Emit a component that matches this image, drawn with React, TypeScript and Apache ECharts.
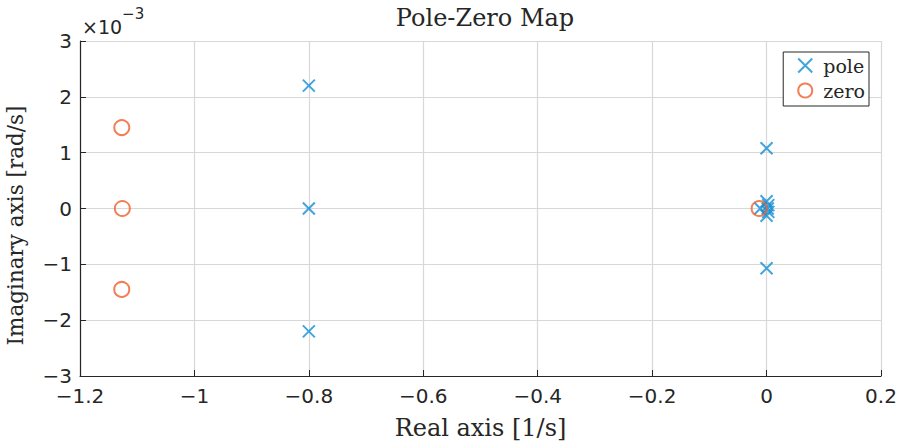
import React, { useEffect, useRef } from "react";
import * as echarts from "echarts";

// Poles: [real (1/s), imaginary (rad/s)]
const poleReal = [-0.8, -0.8, -0.8, 0, 0, 0, 0, 0.003, 0.003, 0.002, -0.011];
const poleImag = [2.2e-3, 0, -2.2e-3, 1.08e-3, -1.07e-3, 0.13e-3, -0.13e-3, 0.06e-3, -0.06e-3, 0, 0];
// Zeros
const zeroReal = [-1.127, -1.126, -1.127, -0.013];
const zeroImag = [1.45e-3, 0, -1.45e-3, 0];

const xTicks = { min: -1.2, max: 0.2, interval: 0.2 };
const yTicks = { min: -3e-3, max: 3e-3, interval: 1e-3 };

const BLUE = "#148ED3";
const ORANGE = "#EF5F2C";
const SERIF = "'DejaVu Serif', 'Liberation Serif', serif";
const SANS = "'DejaVu Sans', sans-serif";

const fmt = (s: string) => s.replace("-", "\u2212");

export default function App() {
  const ref = useRef<HTMLDivElement>(null);
  useEffect(() => {
    if (!ref.current) return;
    const chart = echarts.init(ref.current, null, { renderer: "svg" });
    const poles = poleReal.map((x, i) => [x, poleImag[i]]);
    const zeros = zeroReal.map((x, i) => [x, zeroImag[i]]);
    chart.setOption({
      animation: false,
      backgroundColor: "#fff",
      title: {
        text: "Pole-Zero Map",
        left: 480,
        textAlign: "center",
        top: 1,
        textStyle: { fontFamily: SERIF, fontSize: 24, fontWeight: "normal", color: "#262626" },
      },
      grid: { left: 80, right: 20, top: 41, bottom: 71, containLabel: false, outerBoundsMode: "none" },
      legend: {
        orient: "vertical",
        right: 32,
        top: 52,
        backgroundColor: "#fff",
        borderColor: "#262626",
        borderWidth: 1,
        borderRadius: 0,
        padding: [4, 4, 6, 14],
        itemGap: 6,
        itemWidth: 14,
        itemHeight: 14,
        textStyle: { fontFamily: SERIF, fontSize: 19, color: "#262626", padding: [0, 0, 0, 6] },
        data: ["pole", "zero"],
      },
      xAxis: {
        type: "value",
        min: xTicks.min,
        max: xTicks.max,
        interval: xTicks.interval,
        name: "Real axis [1/s]",
        nameLocation: "middle",
        nameGap: 40,
        nameTextStyle: { fontFamily: SERIF, fontSize: 24, color: "#262626" },
        axisLine: { show: true, onZero: false, lineStyle: { color: "#262626", width: 1.2 } },
        axisTick: { show: true, inside: true, length: 6, lineStyle: { color: "#262626" } },
        axisLabel: {
          fontFamily: SANS,
          fontSize: 20,
          color: "#262626",
          margin: 10,
          formatter: (v: number) => fmt(String(Math.round(v * 10) / 10)),
        },
        splitLine: { show: true, lineStyle: { color: "#d8d8d8", width: 1.2 } },
      },
      yAxis: {
        type: "value",
        min: yTicks.min,
        max: yTicks.max,
        interval: yTicks.interval,
        name: "Imaginary axis [rad/s]",
        nameLocation: "middle",
        nameGap: 54,
        nameRotate: 90,
        nameTextStyle: { fontFamily: SERIF, fontSize: 21.5, color: "#262626", padding: [0, 34, 0, 0] },
        axisLine: { show: true, onZero: false, lineStyle: { color: "#262626", width: 1.2 } },
        axisTick: { show: true, inside: true, length: 6, lineStyle: { color: "#262626" } },
        axisLabel: {
          fontFamily: SANS,
          fontSize: 20,
          color: "#262626",
          margin: 8,
          formatter: (v: number) => fmt(String(Math.round(v * 1000))),
        },
        splitLine: { show: true, lineStyle: { color: "#d8d8d8", width: 1.2 } },
      },
      graphic: [
        {
          type: "text",
          left: 82,
          top: 6,
          style: {
            text: "{a|\u00d710}{b|\u22123}",
            rich: {
              a: { fontFamily: SANS, fontSize: 19, fill: "#262626", verticalAlign: "bottom", lineHeight: 30 },
              b: { fontFamily: SANS, fontSize: 15, fill: "#262626", verticalAlign: "top", lineHeight: 30 },
            },
          },
        },
      ],
      series: [
        {
          name: "pole",
          type: "scatter",
          data: poles,
          symbol: "path://M0,0L10,10M10,0L0,10",
          symbolSize: 12,
          itemStyle: { color: "transparent", borderColor: BLUE, borderWidth: 2 },
          z: 3,
        },
        {
          name: "zero",
          type: "scatter",
          data: zeros,
          symbol: "circle",
          symbolSize: 15,
          itemStyle: { color: "transparent", borderColor: ORANGE, borderWidth: 2 },
          z: 4,
        },
      ],
    });
    return () => chart.dispose();
  }, []);
  return <div ref={ref} style={{ width: 901, height: 447, position: "absolute", left: 0, top: 0 }} />;
}
